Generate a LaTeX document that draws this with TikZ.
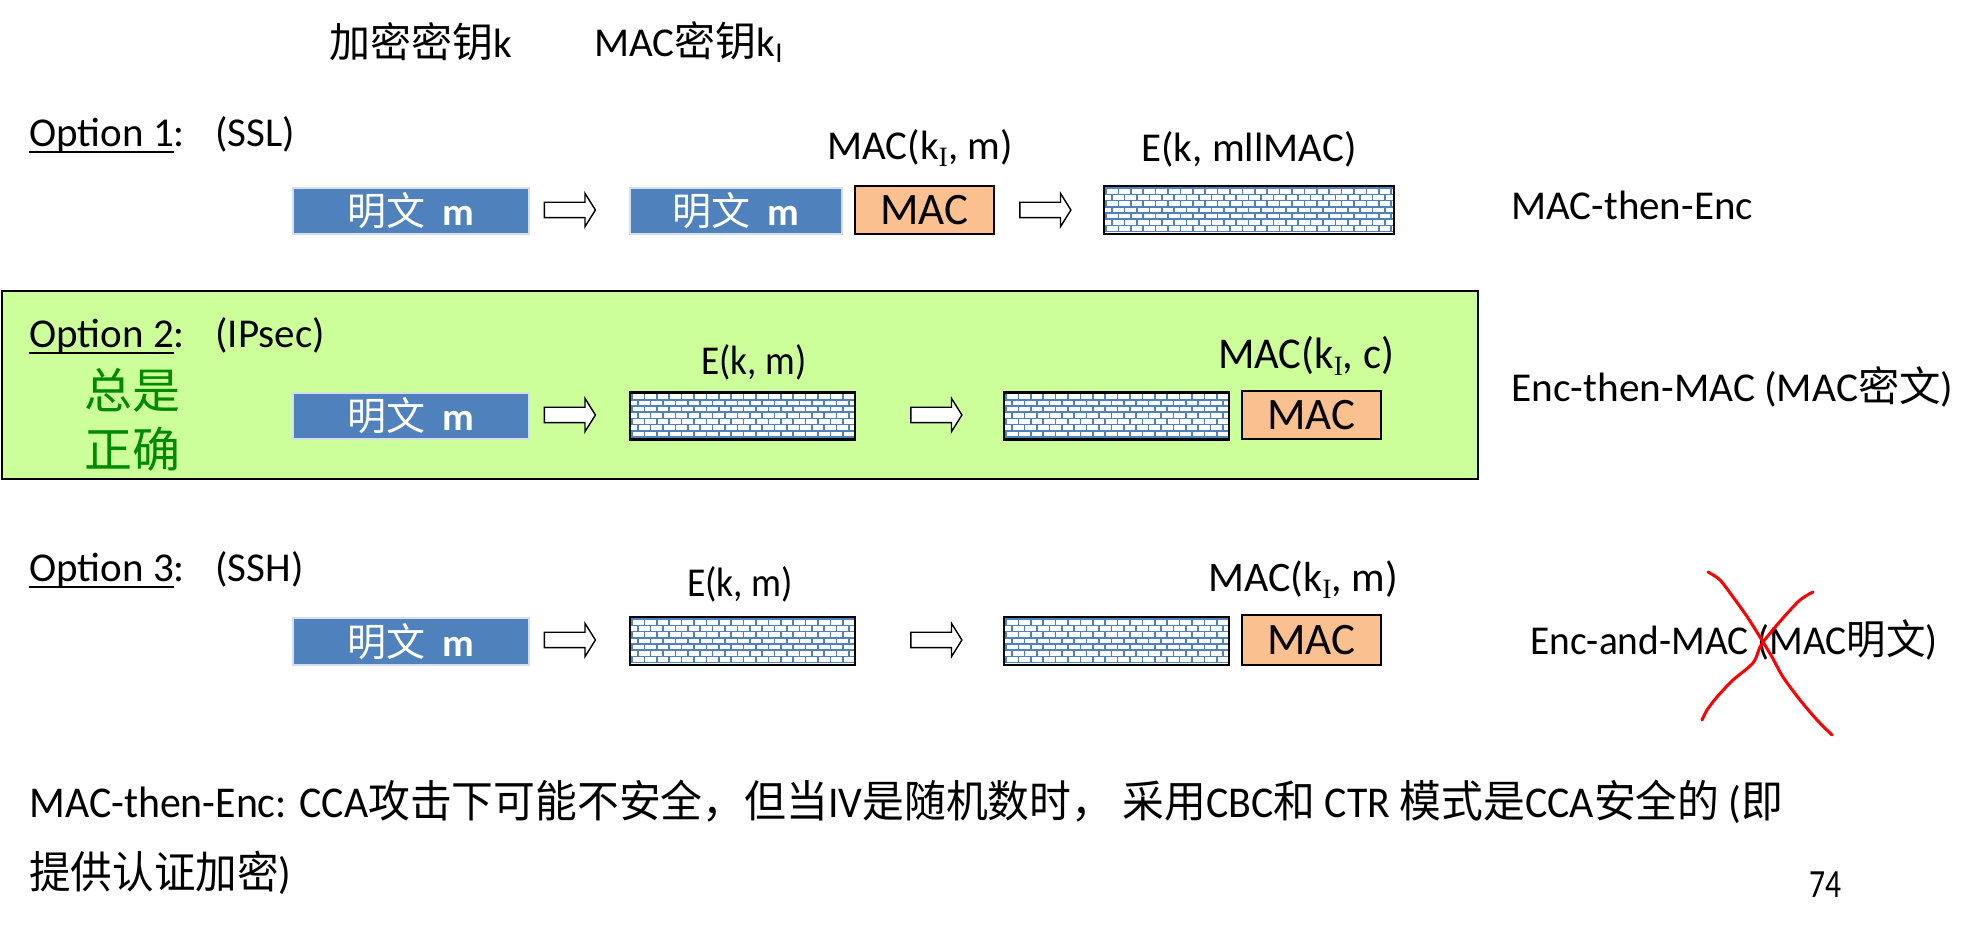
\documentclass[tikz,border=0pt]{standalone}
\usepackage{fontspec}
\setmainfont{Carlito}
\newfontfamily\cjk{Noto Sans CJK SC}
\newfontfamily\serifI{Liberation Serif}
\usetikzlibrary{shapes.arrows}
\definecolor{ptblue}{HTML}{4F81BD}
\definecolor{ptedge}{HTML}{D6DEEC}
\definecolor{brickblue}{HTML}{4F81BD}
\definecolor{macfill}{HTML}{FAC090}
\definecolor{greenbg}{HTML}{CCFF99}
\definecolor{okgreen}{HTML}{008A00}
\newcommand{\kI}{k\raisebox{-3.5pt}{\serifI\fontsize{14pt}{14pt}\selectfont I}}
\newcommand{\fitw}[2]{\resizebox{#1}{\height}{#2}}
\newcommand{\pt}{{\cjk 明文}\hspace{0.45em}\textbf{m}}
\newcommand{\myul}[1]{\setbox0\hbox{#1}\rlap{\rule[-3pt]{\wd0}{1pt}}\box0}
\begin{document}
\begin{tikzpicture}[x=0.5pt,y=-0.5pt,
  txt/.style={inner sep=0pt, font=\fontsize{20.5pt}{24pt}\selectfont},
  ptbox/.style={draw=ptedge, line width=1pt, fill=ptblue, minimum width=118pt, minimum height=23pt,
    inner sep=0pt, text=white, font=\fontsize{19.5pt}{24pt}\selectfont},
  macbox/.style={draw=black, line width=1.25pt, fill=macfill, minimum width=69.5pt, minimum height=24pt,
    inner sep=0pt, font=\fontsize{22.5pt}{24pt}\selectfont},
  brickline/.style={draw=brickblue, line width=0.8pt},
  brickbox/.style={draw=black, line width=1.2pt, fill=white, minimum width=#1, minimum height=23.5pt, inner sep=0pt,
    path picture={
      \foreach \i in {0,...,8}{
        \draw[brickline] ([yshift=\i*3.1pt+1.2pt]path picture bounding box.south west) -- ([yshift=\i*3.1pt+1.2pt]path picture bounding box.south east);
        \foreach \j in {0,...,24}{
          \pgfmathsetmacro\xo{\j*6.2+mod(\i,2)*3.1+1}
          \draw[brickline] ([xshift=\xo pt,yshift=\i*3.1pt+1.2pt]path picture bounding box.south west) -- ++(0pt,3.1pt);
        }
      }
    }},
  harrow/.style={single arrow, draw=black, line width=0.7pt, fill=white, minimum height=25.5pt, minimum width=16pt,
    inner ysep=3.5pt, inner xsep=0pt, single arrow head extend=4.5pt, single arrow head indent=0pt, single arrow tip angle=116},
  redx/.style={draw=red, line width=1.5pt, line cap=round, line join=round}
]
\useasboundingbox (0,0) rectangle (1983,935);
\fill[white] (0,0) rectangle (1983,935);

% header
\node[txt, anchor=west] (hk) at (329,42) {{\cjk 加密密钥}k};
\node[txt, anchor=west] (hki) at (594,42) {MAC{\cjk 密钥}k\textsubscript{I}};

% Option 1
\node[txt, anchor=base west] (o1) at (29,147) {\myul{Option 1}:};
\node[txt, anchor=base west] (o1b) at (215,147) {(SSL)};
\node[ptbox] (p1) at (411,211) {\pt};
\node[harrow] (a1) at (567.5,210) {};
\node[ptbox, minimum width=106pt] (p2) at (736,211) {\pt};
\node[macbox] (mac1) at (924.5,210) {MAC};
\node[harrow] (a2) at (1043,210) {};
\node[brickbox=145pt, minimum height=24pt] (e1) at (1249,210) {};
\node[txt] (lmac1) at (920,148) {MAC(\kI, m)};
\node[txt] (le1) at (1249,149) {E(k, mllMAC)};
\node[txt, anchor=west] (r1) at (1511,205) {MAC-then-Enc};

% Option 2
\node[draw=black, line width=1pt, fill=greenbg, anchor=north west, minimum width=738pt, minimum height=94pt, inner sep=0pt] (g) at (1,290) {};
\node[txt, anchor=base west] (o2) at (29,348) {\myul{Option 2}:};
\node[txt, anchor=base west] (o2b) at (215,348) {(IPsec)};
\node[inner sep=0pt, anchor=west, text=okgreen, font=\cjk\fontsize{24pt}{29pt}\selectfont] (ok1) at (84,390) {总是};
\node[inner sep=0pt, anchor=west, text=okgreen, font=\cjk\fontsize{24pt}{29pt}\selectfont] (ok2) at (84,449) {正确};
\node[ptbox] (p3) at (411,416) {\pt};
\node[harrow] (a3) at (567.5,415) {};
\node[brickbox=112.5pt] (e2) at (742.5,416) {};
\node[harrow] (a4) at (934,415) {};
\node[brickbox=112.5pt] (e3) at (1116.5,416) {};
\node[macbox] (mac2) at (1311.5,415) {MAC};
\node[txt] (le2) at (754,362) {\fitw{52.5pt}{E(k, m)}};
\node[txt, font=\fontsize{22pt}{26pt}\selectfont] (lmac2) at (1306,356) {\fitw{88pt}{MAC(\kI, c)}};
\node[txt, anchor=west] (r2) at (1511,387) {\fitw{221pt}{Enc-then-MAC (MAC{\cjk 密文})}};

% Option 3
\node[txt, anchor=base west] (o3) at (29,582) {\myul{Option 3}:};
\node[txt, anchor=base west] (o3b) at (215,582) {(SSH)};
\node[ptbox, minimum height=23.5pt] (p4) at (411,641.5) {\pt};
\node[harrow] (a5) at (567.5,640) {};
\node[brickbox=112.5pt, minimum height=24pt] (e4) at (742.5,641) {};
\node[harrow] (a6) at (934,640) {};
\node[brickbox=112.5pt, minimum height=24pt] (e5) at (1116.5,641) {};
\node[macbox, minimum height=25pt] (mac3) at (1311.5,640) {MAC};
\node[txt] (le4) at (740,584) {\fitw{53pt}{E(k, m)}};
\node[txt, font=\fontsize{21pt}{26pt}\selectfont] (lmac3) at (1303,580) {MAC(\kI, m)};
\node[txt, anchor=west] (r3) at (1530,640) {\fitw{203.5pt}{Enc-and-MAC (MAC{\cjk 明文})}};

% red cross
\draw[redx] plot[smooth] coordinates {(1708,572) (1720,580) (1733,597) (1748,618) (1763,642) (1772,657) (1783,677) (1800,700) (1817,720) (1832,735)};
\draw[redx] plot[smooth] coordinates {(1813,592) (1800,600) (1783,618) (1767,637) (1760,647) (1753,663) (1733,680) (1717,697) (1707,710) (1702,720)};

% bottom note
\node[txt, anchor=west, font=\fontsize{22pt}{26pt}\selectfont] (n1) at (29,802) {\fitw{877pt}{MAC-then-Enc: CCA{\cjk 攻击下可能不安全，但当}IV{\cjk 是随机数时，} {\cjk 采用}CBC{\cjk 和} CTR {\cjk 模式是}CCA{\cjk 安全的} ({\cjk 即}}};
\node[txt, anchor=west, font=\fontsize{22pt}{26pt}\selectfont] (n2) at (29,873) {\fitw{131pt}{{\cjk 提供认证加密})}};
\node[txt, font=\fontsize{20pt}{24pt}\selectfont] (pg) at (1825,885) {\fitw{16pt}{74}};
\end{tikzpicture}
\end{document}
